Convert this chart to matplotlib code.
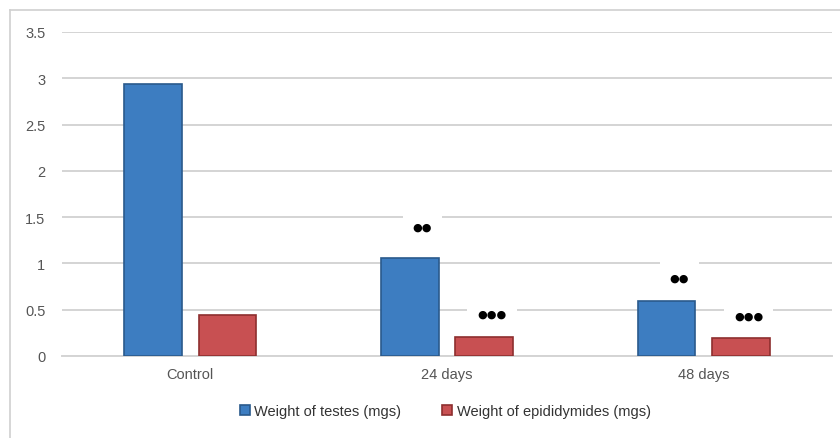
import matplotlib
matplotlib.use("Agg")
import matplotlib.pyplot as plt
import numpy as np
from matplotlib.lines import Line2D

categories = ["Control", "24 days", "48 days"]
testes = [2.94, 1.06, 0.59]
epididymides = [0.44, 0.21, 0.19]
testes_marks = ["", "\u25cf\u25cf", "\u25cf\u25cf"]
epid_marks = ["", "\u25cf\u25cf\u25cf", "\u25cf\u25cf\u25cf"]
testes_mark_y = [0, 1.40, 0.85]
epid_mark_y = [0, 0.46, 0.44]

plt.rcParams['font.family'] = ['Liberation Sans', 'DejaVu Sans']

fig = plt.figure(figsize=(8.4, 4.39), dpi=100)
ax = fig.add_axes([62/840, 1-357/439, (832-62)/840, (357-33)/439])

x = np.arange(len(categories))
w = 0.225
off = 0.145
blue = "#3D7DC1"
red = "#C85052"
ax.bar(x-off, testes, w, color=blue, edgecolor="#2A5A8C", linewidth=1.2, zorder=3,
       label="Weight of testes (mgs)")
ax.bar(x+off, epididymides, w, color=red, edgecolor="#8E2F2F", linewidth=1.2, zorder=3,
       label="Weight of epididymides (mgs)")

# significance marks with white boxes over the grid
for i in x:
    if testes_marks[i]:
        ax.text(i-off+0.05, testes_mark_y[i], testes_marks[i], ha="center", va="center",
                fontsize=8, family="DejaVu Sans", color="black", zorder=4,
                bbox=dict(boxstyle="square,pad=0.9", fc="white", ec="none"))
    if epid_marks[i]:
        ax.text(i+off+0.03, epid_mark_y[i], epid_marks[i], ha="center", va="center",
                fontsize=8, family="DejaVu Sans", color="black", zorder=4,
                bbox=dict(boxstyle="square,pad=0.9", fc="white", ec="none"))

ax.set_xlim(-0.5, 2.5)
ax.set_ylim(0, 3.5)
ax.set_yticks(np.arange(0, 3.51, 0.5))
ax.set_yticklabels(["0", "0.5", "1", "1.5", "2", "2.5", "3", "3.5"])
ax.set_xticks(x)
ax.set_xticklabels(categories)
ax.yaxis.grid(True, color="#D4D4D4", linewidth=1.4, zorder=0)
ax.set_axisbelow(True)
for s in ["top", "right", "left"]:
    ax.spines[s].set_visible(False)
ax.spines["bottom"].set_color("#D4D4D4")
ax.spines["bottom"].set_linewidth(1.4)
ax.tick_params(length=0, labelsize=10.5, colors="#555555")
ax.tick_params(axis="y", pad=12)
ax.tick_params(axis="x", pad=8)

leg = fig.legend(loc="center", bbox_to_anchor=(0.53, 1-412/439), ncol=2, frameon=False,
                 fontsize=10.5, handlelength=0.7, handleheight=0.7, handletextpad=0.3,
                 columnspacing=2.8)
for t in leg.get_texts():
    t.set_color("#333333")

# chart border (left and top visible)
fig.add_artist(Line2D([10/840, 10/840], [0, 1-11/439], color="#D0D0D0", lw=1.2,
                      transform=fig.transFigure))
fig.add_artist(Line2D([10/840, 1], [1-11/439, 1-11/439], color="#D0D0D0", lw=1.2,
                      transform=fig.transFigure))

fig.savefig("out.png", dpi=100)
